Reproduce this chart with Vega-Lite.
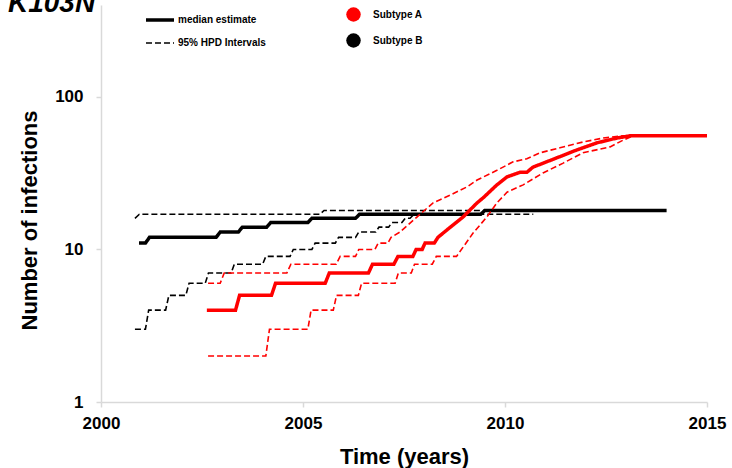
{
  "$schema": "https://vega.github.io/schema/vega-lite/v6.json",
  "autosize": "none",
  "width": 606,
  "height": 397,
  "padding": {"left": 101, "top": 5, "right": 25, "bottom": 66},
  "background": "white",
  "config": {
    "view": {"stroke": null},
    "font": "Liberation Sans",
    "axis": {"grid": false, "domainColor": "#d9d9d9", "domainWidth": 1.5, "tickColor": "#d9d9d9", "tickWidth": 1.5, "tickSize": 5, "labelFont": "Liberation Sans", "labelFontWeight": "bold", "labelFontSize": 17, "labelColor": "black", "labelFlush": false, "titleFont": "Liberation Sans", "titleFontWeight": "bold", "titleFontSize": 22, "titleColor": "black"},
    "legend": {"padding": 0, "labelFont": "Liberation Sans", "labelFontWeight": "bold", "labelFontSize": 10, "labelColor": "black", "title": null}
  },
  "title": {"text": "K103N", "orient": "top", "anchor": "start", "frame": "group", "dx": -93, "offset": -14, "font": "Liberation Sans", "fontSize": 28, "fontWeight": "bold", "fontStyle": "italic", "color": "black"},
  "data": {"values": [
    {"sub": "Subtype B", "kind": "95% HPD Intervals", "ser": "B-up", "x": 2000.84, "y": 16},
    {"sub": "Subtype B", "kind": "95% HPD Intervals", "ser": "B-up", "x": 2000.95, "y": 17},
    {"sub": "Subtype B", "kind": "95% HPD Intervals", "ser": "B-up", "x": 2005.42, "y": 17},
    {"sub": "Subtype B", "kind": "95% HPD Intervals", "ser": "B-up", "x": 2005.52, "y": 18},
    {"sub": "Subtype B", "kind": "95% HPD Intervals", "ser": "B-up", "x": 2010.7, "y": 18},
    {"sub": "Subtype B", "kind": "median estimate", "ser": "B-med", "x": 2000.94, "y": 11},
    {"sub": "Subtype B", "kind": "median estimate", "ser": "B-med", "x": 2001.1, "y": 11},
    {"sub": "Subtype B", "kind": "median estimate", "ser": "B-med", "x": 2001.2, "y": 12},
    {"sub": "Subtype B", "kind": "median estimate", "ser": "B-med", "x": 2002.85, "y": 12},
    {"sub": "Subtype B", "kind": "median estimate", "ser": "B-med", "x": 2002.95, "y": 13},
    {"sub": "Subtype B", "kind": "median estimate", "ser": "B-med", "x": 2003.4, "y": 13},
    {"sub": "Subtype B", "kind": "median estimate", "ser": "B-med", "x": 2003.5, "y": 14},
    {"sub": "Subtype B", "kind": "median estimate", "ser": "B-med", "x": 2004.1, "y": 14},
    {"sub": "Subtype B", "kind": "median estimate", "ser": "B-med", "x": 2004.2, "y": 15},
    {"sub": "Subtype B", "kind": "median estimate", "ser": "B-med", "x": 2005.12, "y": 15},
    {"sub": "Subtype B", "kind": "median estimate", "ser": "B-med", "x": 2005.22, "y": 16},
    {"sub": "Subtype B", "kind": "median estimate", "ser": "B-med", "x": 2006.3, "y": 16},
    {"sub": "Subtype B", "kind": "median estimate", "ser": "B-med", "x": 2006.4, "y": 17},
    {"sub": "Subtype B", "kind": "median estimate", "ser": "B-med", "x": 2009.4, "y": 17},
    {"sub": "Subtype B", "kind": "median estimate", "ser": "B-med", "x": 2009.5, "y": 18},
    {"sub": "Subtype B", "kind": "median estimate", "ser": "B-med", "x": 2014.0, "y": 18},
    {"sub": "Subtype B", "kind": "95% HPD Intervals", "ser": "B-lo", "x": 2000.84, "y": 3},
    {"sub": "Subtype B", "kind": "95% HPD Intervals", "ser": "B-lo", "x": 2001.1, "y": 3},
    {"sub": "Subtype B", "kind": "95% HPD Intervals", "ser": "B-lo", "x": 2001.18, "y": 4},
    {"sub": "Subtype B", "kind": "95% HPD Intervals", "ser": "B-lo", "x": 2001.6, "y": 4},
    {"sub": "Subtype B", "kind": "95% HPD Intervals", "ser": "B-lo", "x": 2001.68, "y": 5},
    {"sub": "Subtype B", "kind": "95% HPD Intervals", "ser": "B-lo", "x": 2002.1, "y": 5},
    {"sub": "Subtype B", "kind": "95% HPD Intervals", "ser": "B-lo", "x": 2002.18, "y": 6},
    {"sub": "Subtype B", "kind": "95% HPD Intervals", "ser": "B-lo", "x": 2002.58, "y": 6},
    {"sub": "Subtype B", "kind": "95% HPD Intervals", "ser": "B-lo", "x": 2002.66, "y": 7},
    {"sub": "Subtype B", "kind": "95% HPD Intervals", "ser": "B-lo", "x": 2003.22, "y": 7},
    {"sub": "Subtype B", "kind": "95% HPD Intervals", "ser": "B-lo", "x": 2003.3, "y": 8},
    {"sub": "Subtype B", "kind": "95% HPD Intervals", "ser": "B-lo", "x": 2004.0, "y": 8},
    {"sub": "Subtype B", "kind": "95% HPD Intervals", "ser": "B-lo", "x": 2004.08, "y": 9},
    {"sub": "Subtype B", "kind": "95% HPD Intervals", "ser": "B-lo", "x": 2004.68, "y": 9},
    {"sub": "Subtype B", "kind": "95% HPD Intervals", "ser": "B-lo", "x": 2004.76, "y": 10},
    {"sub": "Subtype B", "kind": "95% HPD Intervals", "ser": "B-lo", "x": 2005.22, "y": 10},
    {"sub": "Subtype B", "kind": "95% HPD Intervals", "ser": "B-lo", "x": 2005.3, "y": 11},
    {"sub": "Subtype B", "kind": "95% HPD Intervals", "ser": "B-lo", "x": 2005.8, "y": 11},
    {"sub": "Subtype B", "kind": "95% HPD Intervals", "ser": "B-lo", "x": 2005.88, "y": 12},
    {"sub": "Subtype B", "kind": "95% HPD Intervals", "ser": "B-lo", "x": 2006.3, "y": 12},
    {"sub": "Subtype B", "kind": "95% HPD Intervals", "ser": "B-lo", "x": 2006.38, "y": 13},
    {"sub": "Subtype B", "kind": "95% HPD Intervals", "ser": "B-lo", "x": 2006.8, "y": 13},
    {"sub": "Subtype B", "kind": "95% HPD Intervals", "ser": "B-lo", "x": 2006.88, "y": 14},
    {"sub": "Subtype B", "kind": "95% HPD Intervals", "ser": "B-lo", "x": 2007.12, "y": 14},
    {"sub": "Subtype B", "kind": "95% HPD Intervals", "ser": "B-lo", "x": 2007.2, "y": 15},
    {"sub": "Subtype B", "kind": "95% HPD Intervals", "ser": "B-lo", "x": 2007.45, "y": 15},
    {"sub": "Subtype B", "kind": "95% HPD Intervals", "ser": "B-lo", "x": 2007.53, "y": 16},
    {"sub": "Subtype B", "kind": "95% HPD Intervals", "ser": "B-lo", "x": 2007.65, "y": 16},
    {"sub": "Subtype B", "kind": "95% HPD Intervals", "ser": "B-lo", "x": 2007.75, "y": 17},
    {"sub": "Subtype B", "kind": "95% HPD Intervals", "ser": "B-lo", "x": 2010.7, "y": 17},
    {"sub": "Subtype A", "kind": "median estimate", "ser": "A-med", "x": 2002.62, "y": 4},
    {"sub": "Subtype A", "kind": "median estimate", "ser": "A-med", "x": 2003.33, "y": 4},
    {"sub": "Subtype A", "kind": "median estimate", "ser": "A-med", "x": 2003.43, "y": 5},
    {"sub": "Subtype A", "kind": "median estimate", "ser": "A-med", "x": 2004.22, "y": 5},
    {"sub": "Subtype A", "kind": "median estimate", "ser": "A-med", "x": 2004.32, "y": 6},
    {"sub": "Subtype A", "kind": "median estimate", "ser": "A-med", "x": 2005.55, "y": 6},
    {"sub": "Subtype A", "kind": "median estimate", "ser": "A-med", "x": 2005.65, "y": 7},
    {"sub": "Subtype A", "kind": "median estimate", "ser": "A-med", "x": 2006.62, "y": 7},
    {"sub": "Subtype A", "kind": "median estimate", "ser": "A-med", "x": 2006.72, "y": 8},
    {"sub": "Subtype A", "kind": "median estimate", "ser": "A-med", "x": 2007.25, "y": 8},
    {"sub": "Subtype A", "kind": "median estimate", "ser": "A-med", "x": 2007.35, "y": 9},
    {"sub": "Subtype A", "kind": "median estimate", "ser": "A-med", "x": 2007.72, "y": 9},
    {"sub": "Subtype A", "kind": "median estimate", "ser": "A-med", "x": 2007.8, "y": 10},
    {"sub": "Subtype A", "kind": "median estimate", "ser": "A-med", "x": 2007.95, "y": 10},
    {"sub": "Subtype A", "kind": "median estimate", "ser": "A-med", "x": 2008.02, "y": 11},
    {"sub": "Subtype A", "kind": "median estimate", "ser": "A-med", "x": 2008.25, "y": 11},
    {"sub": "Subtype A", "kind": "median estimate", "ser": "A-med", "x": 2008.34, "y": 12},
    {"sub": "Subtype A", "kind": "median estimate", "ser": "A-med", "x": 2008.56, "y": 13.4},
    {"sub": "Subtype A", "kind": "median estimate", "ser": "A-med", "x": 2008.96, "y": 16.3},
    {"sub": "Subtype A", "kind": "median estimate", "ser": "A-med", "x": 2009.31, "y": 20.2},
    {"sub": "Subtype A", "kind": "median estimate", "ser": "A-med", "x": 2009.46, "y": 21.8},
    {"sub": "Subtype A", "kind": "median estimate", "ser": "A-med", "x": 2009.8, "y": 26.5},
    {"sub": "Subtype A", "kind": "median estimate", "ser": "A-med", "x": 2010.05, "y": 29.9},
    {"sub": "Subtype A", "kind": "median estimate", "ser": "A-med", "x": 2010.37, "y": 32},
    {"sub": "Subtype A", "kind": "median estimate", "ser": "A-med", "x": 2010.54, "y": 32},
    {"sub": "Subtype A", "kind": "median estimate", "ser": "A-med", "x": 2010.69, "y": 34.6},
    {"sub": "Subtype A", "kind": "median estimate", "ser": "A-med", "x": 2011.29, "y": 39.9},
    {"sub": "Subtype A", "kind": "median estimate", "ser": "A-med", "x": 2011.78, "y": 44.9},
    {"sub": "Subtype A", "kind": "median estimate", "ser": "A-med", "x": 2012.28, "y": 50},
    {"sub": "Subtype A", "kind": "median estimate", "ser": "A-med", "x": 2012.77, "y": 53.7},
    {"sub": "Subtype A", "kind": "median estimate", "ser": "A-med", "x": 2013.09, "y": 55.5},
    {"sub": "Subtype A", "kind": "median estimate", "ser": "A-med", "x": 2015.0, "y": 55.5},
    {"sub": "Subtype A", "kind": "95% HPD Intervals", "ser": "A-up", "x": 2002.65, "y": 6},
    {"sub": "Subtype A", "kind": "95% HPD Intervals", "ser": "A-up", "x": 2002.95, "y": 6},
    {"sub": "Subtype A", "kind": "95% HPD Intervals", "ser": "A-up", "x": 2003.05, "y": 7},
    {"sub": "Subtype A", "kind": "95% HPD Intervals", "ser": "A-up", "x": 2004.6, "y": 7},
    {"sub": "Subtype A", "kind": "95% HPD Intervals", "ser": "A-up", "x": 2004.7, "y": 8},
    {"sub": "Subtype A", "kind": "95% HPD Intervals", "ser": "A-up", "x": 2005.82, "y": 8},
    {"sub": "Subtype A", "kind": "95% HPD Intervals", "ser": "A-up", "x": 2005.92, "y": 9},
    {"sub": "Subtype A", "kind": "95% HPD Intervals", "ser": "A-up", "x": 2006.3, "y": 9},
    {"sub": "Subtype A", "kind": "95% HPD Intervals", "ser": "A-up", "x": 2006.38, "y": 10},
    {"sub": "Subtype A", "kind": "95% HPD Intervals", "ser": "A-up", "x": 2006.78, "y": 10},
    {"sub": "Subtype A", "kind": "95% HPD Intervals", "ser": "A-up", "x": 2006.86, "y": 11},
    {"sub": "Subtype A", "kind": "95% HPD Intervals", "ser": "A-up", "x": 2007.1, "y": 11},
    {"sub": "Subtype A", "kind": "95% HPD Intervals", "ser": "A-up", "x": 2007.18, "y": 12},
    {"sub": "Subtype A", "kind": "95% HPD Intervals", "ser": "A-up", "x": 2007.4, "y": 13},
    {"sub": "Subtype A", "kind": "95% HPD Intervals", "ser": "A-up", "x": 2007.82, "y": 16.3},
    {"sub": "Subtype A", "kind": "95% HPD Intervals", "ser": "A-up", "x": 2008.22, "y": 20.2},
    {"sub": "Subtype A", "kind": "95% HPD Intervals", "ser": "A-up", "x": 2008.64, "y": 22.7},
    {"sub": "Subtype A", "kind": "95% HPD Intervals", "ser": "A-up", "x": 2009.06, "y": 25.7},
    {"sub": "Subtype A", "kind": "95% HPD Intervals", "ser": "A-up", "x": 2009.31, "y": 28.5},
    {"sub": "Subtype A", "kind": "95% HPD Intervals", "ser": "A-up", "x": 2009.8, "y": 33},
    {"sub": "Subtype A", "kind": "95% HPD Intervals", "ser": "A-up", "x": 2010.2, "y": 37.5},
    {"sub": "Subtype A", "kind": "95% HPD Intervals", "ser": "A-up", "x": 2010.54, "y": 39.3},
    {"sub": "Subtype A", "kind": "95% HPD Intervals", "ser": "A-up", "x": 2010.87, "y": 43},
    {"sub": "Subtype A", "kind": "95% HPD Intervals", "ser": "A-up", "x": 2011.36, "y": 46.4},
    {"sub": "Subtype A", "kind": "95% HPD Intervals", "ser": "A-up", "x": 2011.93, "y": 50.6},
    {"sub": "Subtype A", "kind": "95% HPD Intervals", "ser": "A-up", "x": 2012.43, "y": 53.7},
    {"sub": "Subtype A", "kind": "95% HPD Intervals", "ser": "A-up", "x": 2012.92, "y": 55.5},
    {"sub": "Subtype A", "kind": "95% HPD Intervals", "ser": "A-up", "x": 2013.4, "y": 56},
    {"sub": "Subtype A", "kind": "95% HPD Intervals", "ser": "A-lo", "x": 2002.65, "y": 2},
    {"sub": "Subtype A", "kind": "95% HPD Intervals", "ser": "A-lo", "x": 2004.08, "y": 2},
    {"sub": "Subtype A", "kind": "95% HPD Intervals", "ser": "A-lo", "x": 2004.17, "y": 3},
    {"sub": "Subtype A", "kind": "95% HPD Intervals", "ser": "A-lo", "x": 2005.12, "y": 3},
    {"sub": "Subtype A", "kind": "95% HPD Intervals", "ser": "A-lo", "x": 2005.2, "y": 4},
    {"sub": "Subtype A", "kind": "95% HPD Intervals", "ser": "A-lo", "x": 2005.75, "y": 4},
    {"sub": "Subtype A", "kind": "95% HPD Intervals", "ser": "A-lo", "x": 2005.83, "y": 5},
    {"sub": "Subtype A", "kind": "95% HPD Intervals", "ser": "A-lo", "x": 2006.37, "y": 5},
    {"sub": "Subtype A", "kind": "95% HPD Intervals", "ser": "A-lo", "x": 2006.45, "y": 6},
    {"sub": "Subtype A", "kind": "95% HPD Intervals", "ser": "A-lo", "x": 2007.28, "y": 6},
    {"sub": "Subtype A", "kind": "95% HPD Intervals", "ser": "A-lo", "x": 2007.36, "y": 7},
    {"sub": "Subtype A", "kind": "95% HPD Intervals", "ser": "A-lo", "x": 2007.68, "y": 7},
    {"sub": "Subtype A", "kind": "95% HPD Intervals", "ser": "A-lo", "x": 2007.76, "y": 8},
    {"sub": "Subtype A", "kind": "95% HPD Intervals", "ser": "A-lo", "x": 2008.2, "y": 8},
    {"sub": "Subtype A", "kind": "95% HPD Intervals", "ser": "A-lo", "x": 2008.3, "y": 9},
    {"sub": "Subtype A", "kind": "95% HPD Intervals", "ser": "A-lo", "x": 2008.8, "y": 9},
    {"sub": "Subtype A", "kind": "95% HPD Intervals", "ser": "A-lo", "x": 2009.21, "y": 12.8},
    {"sub": "Subtype A", "kind": "95% HPD Intervals", "ser": "A-lo", "x": 2009.55, "y": 16.3},
    {"sub": "Subtype A", "kind": "95% HPD Intervals", "ser": "A-lo", "x": 2009.8, "y": 20.2},
    {"sub": "Subtype A", "kind": "95% HPD Intervals", "ser": "A-lo", "x": 2010.05, "y": 23.7},
    {"sub": "Subtype A", "kind": "95% HPD Intervals", "ser": "A-lo", "x": 2010.45, "y": 26.5},
    {"sub": "Subtype A", "kind": "95% HPD Intervals", "ser": "A-lo", "x": 2010.94, "y": 31.7},
    {"sub": "Subtype A", "kind": "95% HPD Intervals", "ser": "A-lo", "x": 2011.44, "y": 36.8},
    {"sub": "Subtype A", "kind": "95% HPD Intervals", "ser": "A-lo", "x": 2011.93, "y": 43},
    {"sub": "Subtype A", "kind": "95% HPD Intervals", "ser": "A-lo", "x": 2012.6, "y": 47},
    {"sub": "Subtype A", "kind": "95% HPD Intervals", "ser": "A-lo", "x": 2012.92, "y": 52},
    {"sub": "Subtype A", "kind": "95% HPD Intervals", "ser": "A-lo", "x": 2013.17, "y": 55.5},
    {"sub": "Subtype A", "kind": "95% HPD Intervals", "ser": "A-lo", "x": 2013.4, "y": 56}
  ]},
  "mark": {"type": "line", "clip": true, "strokeCap": "butt"},
  "encoding": {
    "x": {"field": "x", "type": "quantitative", "scale": {"domain": [2000, 2015], "nice": false, "zero": false},
      "axis": {"title": "Time (years)", "values": [2000, 2005, 2010, 2015], "format": "d", "labelPadding": 8, "titleY": 61, "titleBaseline": "alphabetic"}},
    "y": {"field": "y", "type": "quantitative", "scale": {"type": "log", "domain": [1, 400], "nice": false},
      "axis": {"title": "Number of infections", "values": [1, 10, 100], "format": "d", "labelPadding": 13, "titleX": -72, "titleY": 215, "titleAngle": -90, "titleAlign": "center", "titleBaseline": "middle"}},
    "detail": {"field": "ser"},
    "color": {"field": "sub", "type": "nominal",
      "scale": {"domain": ["Subtype A", "Subtype B"], "range": ["#ff0000", "#000000"]},
      "legend": {"orient": "none", "legendX": 245, "legendY": 2, "symbolType": "circle", "symbolSize": 210, "symbolStrokeWidth": 0, "labelOffset": 12, "rowPadding": 11,
        "encode": {"symbols": {"update": {"fill": {"scale": "color", "field": "value"}, "strokeWidth": {"value": 0}}}}}},
    "strokeDash": {"field": "kind", "type": "nominal",
      "scale": {"domain": ["median estimate", "95% HPD Intervals"], "range": [[1, 0], [6, 3]]},
      "legend": {"orient": "none", "legendX": 43, "legendY": -1, "symbolType": "stroke", "symbolSize": 784, "symbolStrokeColor": "black", "labelOffset": 2, "rowPadding": 1}},
    "strokeWidth": {"field": "kind", "type": "nominal",
      "scale": {"domain": ["median estimate", "95% HPD Intervals"], "range": [3.5, 1.6]},
      "legend": {"orient": "none", "legendX": 43, "legendY": -1, "symbolType": "stroke", "symbolSize": 784, "symbolStrokeColor": "black", "labelOffset": 2, "rowPadding": 1}}
  }
}
